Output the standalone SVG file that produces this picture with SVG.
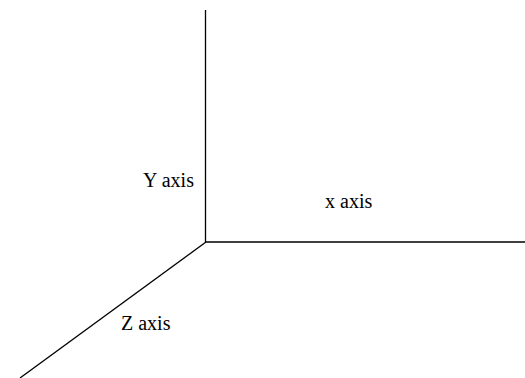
<svg xmlns="http://www.w3.org/2000/svg" width="525" height="378" viewBox="0 0 525 378">
<style>
.ax{stroke:#000;stroke-width:1.3;fill:none}
.lb{font-family:'Liberation Serif','Times New Roman','Nimbus Roman','DejaVu Serif',serif;font-size:20px;fill:#000}
</style>
<rect width="525" height="378" fill="#fff"/>
<g id="connectors">
<line class="ax" x1="205.5" y1="10" x2="205.5" y2="242"/>
<line class="ax" x1="205" y1="242" x2="525" y2="242"/>
<line class="ax" x1="206" y1="242" x2="20" y2="378"/>
</g>
<g id="ylabel"><text class="lb" x="143" y="187">Y axis</text></g>
<g id="xlabel"><text class="lb" x="325" y="208">x axis</text></g>
<g id="zlabel"><text class="lb" x="121" y="330">Z axis</text></g>
</svg>
